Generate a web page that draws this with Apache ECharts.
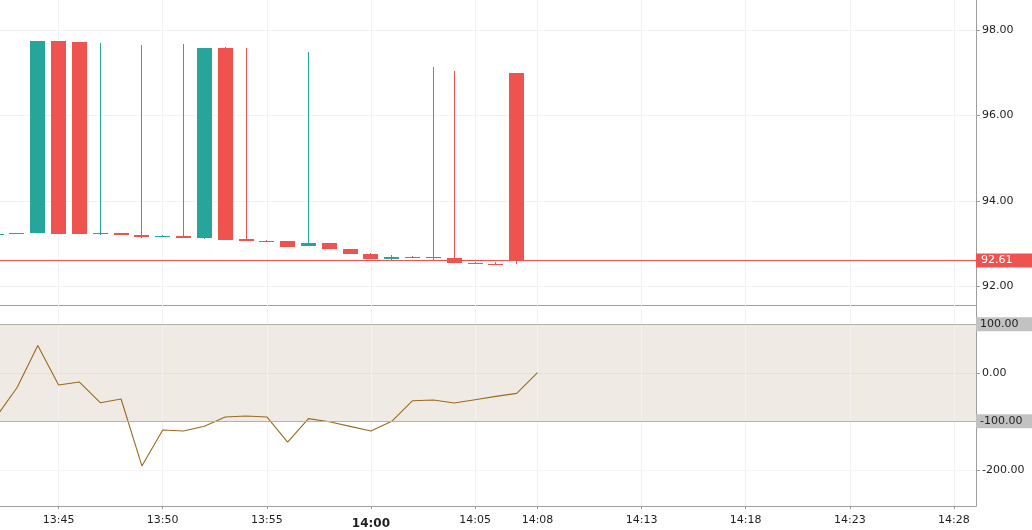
<!DOCTYPE html>
<html>
<head>
<meta charset="utf-8">
<script src="https://cdn.jsdelivr.net/npm/echarts@6/dist/echarts.min.js"></script>
<style>
html,body{margin:0;padding:0;background:#fff;}
#chart{width:1032px;height:530px;}
</style>
</head>
<body>
<div id="chart"></div>
<script>
// ---- data ----
const candleTimes = ['13:42','13:43','13:44','13:45','13:46','13:47','13:48','13:49','13:50','13:51','13:52','13:53','13:54','13:55','13:56','13:57','13:58','13:59','14:00','14:01','14:02','14:03','14:04','14:05','14:06','14:07'];
const opens  = [93.22,93.23,93.26,97.74,97.72,93.23,93.25,93.20,93.16,93.17,93.13,97.58,93.10,93.06,93.06,92.95,93.02,92.88,92.76,92.64,92.69,92.69,92.67,92.55,92.53,96.99];
const closes = [93.23,93.24,97.74,93.23,93.23,93.24,93.20,93.16,93.175,93.14,97.58,93.09,93.06,93.04,92.92,93.02,92.88,92.76,92.64,92.69,92.67,92.67,92.55,92.53,92.50,92.61];
const lows   = [93.22,93.23,93.26,93.23,93.23,93.21,93.20,93.14,93.16,93.14,93.11,93.09,93.06,93.04,92.92,92.95,92.88,92.76,92.64,92.62,92.67,92.62,92.55,92.53,92.50,92.53];
const highs  = [93.23,93.24,97.74,97.74,97.72,97.70,93.25,97.65,93.20,97.67,97.58,97.60,97.58,93.09,93.06,97.49,93.02,92.88,92.78,92.74,92.71,97.13,97.03,92.57,92.58,96.99];
const lastPrice = 92.61;

const cciTimes = ['13:42','13:43','13:44','13:45','13:46','13:47','13:48','13:49','13:50','13:51','13:52','13:53','13:54','13:55','13:56','13:57','13:58','13:59','14:00','14:01','14:02','14:03','14:04','14:05','14:06','14:07','14:08'];
const cciValues = [-91,-30.7,56.5,-25,-19,-61.6,-54,-192,-118,-120,-110,-91,-89,-91,-143,-94.5,-101,-110.5,-120,-100,-57.5,-56,-62.3,-55.5,-48.6,-42.4,0.5];
const cciBands = [100,-100];

const timeTicks = ['13:45','13:50','13:55','14:00','14:05','14:08','14:13','14:18','14:23','14:28'];
const boldTick = '14:00';
const priceTicks = [92,94,96,98];
const cciTicks = [-200,0];

// ---- helpers ----
const toMin = s => { const [h,m] = s.split(':').map(Number); return (h-13)*60 + m; };
const fmtMin = v => { const h = 13 + Math.floor(v/60); const m = Math.round(v - (h-13)*60); return h + ':' + String(m).padStart(2,'0'); };

const candleData = candleTimes.map((t,i) => [toMin(t), opens[i], closes[i], lows[i], highs[i]]);
const cciData = cciTimes.map((t,i) => [toMin(t), cciValues[i]]);
const tickVals = timeTicks.map(toMin);

const XMIN = 42.185, XMAX = 89.06;
const AXIS_C = '#9e9e9e';
const GRID_C = '#f2f2f2';
const TEXT_C = '#1f1f1f';
const FONT = 'DejaVu Sans';
const UP = '#26a69a', DOWN = '#ef5350';
const BODY_W = 15;

function renderCandle(params, api) {
  const x = api.value(0), o = api.value(1), c = api.value(2), l = api.value(3), h = api.value(4);
  const pO = api.coord([x, o]), pC = api.coord([x, c]), pL = api.coord([x, l]), pH = api.coord([x, h]);
  const cx = Math.floor(pO[0]) + 0.5;
  const color = c >= o ? UP : DOWN;
  const top = Math.round(Math.min(pO[1], pC[1]));
  const bot = Math.round(Math.max(pO[1], pC[1]));
  return {
    type: 'group',
    children: [
      {type: 'line', shape: {x1: cx, y1: Math.round(pH[1]), x2: cx, y2: Math.round(pL[1])},
        style: {stroke: color, lineWidth: 1}},
      {type: 'rect', shape: {x: cx - BODY_W / 2, y: top, width: BODY_W, height: Math.max(bot - top, 1)},
        style: {fill: color}}
    ]
  };
}

const chart = echarts.init(document.getElementById('chart'), null, {renderer:'canvas'});
chart.setOption({
  animation: false,
  backgroundColor: '#fff',
  grid: [
    {left: 0, right: 56, top: 0, height: 305},
    {left: 0, right: 56, top: 305, height: 201}
  ],
  xAxis: [
    {
      type: 'value', gridIndex: 0, min: XMIN, max: XMAX,
      axisLine: {show: true, onZero: false, lineStyle: {color: AXIS_C, width: 1}},
      axisTick: {show: false, customValues: tickVals},
      axisLabel: {show: false, customValues: tickVals},
      splitLine: {show: true, lineStyle: {color: GRID_C, width: 1}}
    },
    {
      type: 'value', gridIndex: 1, min: XMIN, max: XMAX, z: 3,
      axisLine: {show: true, onZero: false, lineStyle: {color: AXIS_C, width: 1}},
      axisTick: {show: true, length: 3, customValues: tickVals, lineStyle: {color: AXIS_C}},
      axisLabel: {
        show: true, customValues: tickVals, margin: 9,
        fontFamily: FONT, fontSize: 11, color: TEXT_C,
        formatter: v => { const s = fmtMin(v); return s === boldTick ? '{b|' + s + '}' : s; },
        rich: {b: {fontFamily: FONT, fontSize: 12, fontWeight: 'bold', color: TEXT_C, padding: [3,0,0,0]}}
      },
      splitLine: {show: true, lineStyle: {color: GRID_C, width: 1}}
    }
  ],
  yAxis: [
    {
      type: 'value', gridIndex: 0, position: 'right', min: 91.567, max: 98.702, scale: true,
      axisLine: {show: true, lineStyle: {color: AXIS_C, width: 1}},
      axisTick: {show: true, length: 4, customValues: priceTicks, lineStyle: {color: AXIS_C}},
      axisLabel: {show: true, customValues: priceTicks, margin: 6, fontFamily: FONT, fontSize: 11, color: TEXT_C,
        formatter: v => v.toFixed(2)},
      splitLine: {show: true, lineStyle: {color: GRID_C, width: 1}}
    },
    {
      type: 'value', gridIndex: 1, position: 'right', min: -274.6, max: 139.8, z: 3,
      axisLine: {show: true, lineStyle: {color: AXIS_C, width: 1}},
      axisTick: {show: true, length: 4, customValues: cciTicks, lineStyle: {color: AXIS_C}},
      axisLabel: {show: true, customValues: cciTicks, margin: 6, fontFamily: FONT, fontSize: 11, color: TEXT_C,
        formatter: v => v.toFixed(2)},
      splitLine: {show: true, lineStyle: {color: 'rgba(0,0,0,0.035)', width: 1}}
    }
  ],
  series: [
    {
      type: 'custom', xAxisIndex: 0, yAxisIndex: 0,
      data: candleData,
      encode: {x: 0, y: [1,2,3,4]},
      renderItem: renderCandle,
      clip: true,
      markLine: {
        silent: true, symbol: ['none','none'],
        lineStyle: {color: DOWN, width: 1, type: 'solid'},
        label: {show: true, position: 'end', distance: 0, formatter: () => lastPrice.toFixed(2),
          backgroundColor: DOWN, color: '#fff', fontFamily: FONT, fontSize: 11,
          padding: [2, 20, 1, 5], align: 'left'},
        data: [{yAxis: lastPrice}]
      }
    },
    {
      type: 'line', xAxisIndex: 1, yAxisIndex: 1,
      data: cciData, showSymbol: false, symbol: 'none',
      lineStyle: {color: '#9b6a1e', width: 1.1},
      clip: true,
      markArea: {
        silent: true,
        itemStyle: {color: '#efebe4'},
        data: [[{yAxis: cciBands[0]}, {yAxis: cciBands[1]}]]
      },
      markLine: {
        silent: true, symbol: ['none','none'],
        lineStyle: {color: '#b4b0ab', width: 1, type: 'solid'},
        label: {show: true, position: 'end', distance: 0, formatter: p => p.value.toFixed(2),
          backgroundColor: '#c2c2c2', color: TEXT_C, fontFamily: FONT, fontSize: 11,
          padding: [2, 14, 1, 4], align: 'left'},
        data: cciBands.map(b => ({yAxis: b}))
      }
    }
  ]
});
</script>
</body>
</html>
